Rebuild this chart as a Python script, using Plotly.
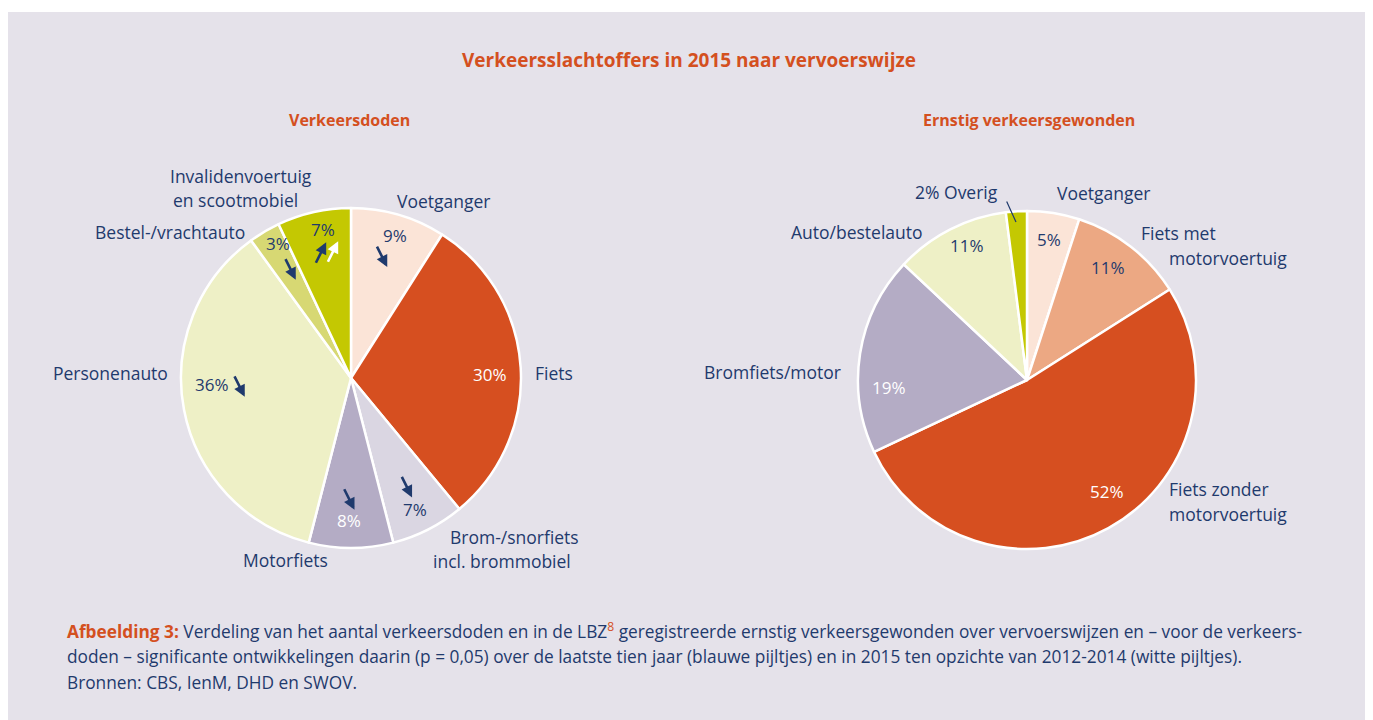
import math
import plotly.graph_objects as go

# ---------------- data ----------------
doden_labels = ["Voetganger", "Fiets", "Brom-/snorfiets incl. brommobiel", "Motorfiets",
                "Personenauto", "Bestel-/vrachtauto", "Invalidenvoertuig en scootmobiel"]
doden_values = [9, 30, 7, 8, 36, 3, 7]
# significant trend over last ten years (blue arrows): -1 down, +1 up, 0 none
doden_trend_10jr = [-1, 0, -1, -1, -1, -1, 1]
# 2015 vs 2012-2014 (white arrows)
doden_trend_2015 = [0, 0, 0, 0, 0, 0, 1]

gewond_labels = ["Voetganger", "Fiets met motorvoertuig", "Fiets zonder motorvoertuig",
                 "Bromfiets/motor", "Auto/bestelauto", "Overig"]
gewond_values = [5, 11, 52, 19, 11, 2]

title = "Verkeersslachtoffers in 2015 naar vervoerswijze"
sub_left = "Verkeersdoden"
sub_right = "Ernstig verkeersgewonden"
caption = [
    "<b><span style='color:#D4501F'>Afbeelding 3:</span></b> Verdeling van het aantal verkeersdoden en in de LBZ"
    "<sup><span style='color:#D4501F'>8</span></sup> geregistreerde ernstig verkeersgewonden over vervoerswijzen en – voor de verkeers-",
    "doden – significante ontwikkelingen daarin (p = 0,05) over de laatste tien jaar (blauwe pijltjes) en in 2015 ten opzichte van 2012-2014 (witte pijltjes).",
    "Bronnen: CBS, IenM, DHD en SWOV.",
]

# ---------------- style ----------------
W, H = 1373, 720
OFF = 8  # page body margin of the browser
FONT = "Open Sans"
NAVY = "#1F3A6D"
ORANGE = "#D4501F"
PANEL = "#E5E2EA"
NAME_SIZE = 17.5
PCT_SIZE = 17
CAP_SIZE = 17.3

doden_colors = ["#FBE4D7", "#D64F20", "#DAD6E2", "#B4ACC5", "#EEF0C6", "#D7D873", "#C4C802"]
doden_text_col = [NAVY, "white", NAVY, "white", NAVY, NAVY, NAVY]
doden_r = [0.88, 0.82, 0.86, 0.84, 0.82, 0.90, 0.89]
doden_shift = [1, 2, 1, 1, 8, 2, 2]
# arrow head offset from percentage label (px)
doden_arrow_off = [(-8, 32), None, (-3, -12), (6, -11), (33, 12), (18, 36), (3, 13)]
doden_warrow_off = [None, None, None, None, None, None, (15, 12)]

gewond_colors = ["#FBE4D7", "#ECA883", "#D64F20", "#B4ACC5", "#EEF0C6", "#C4C802"]
gewond_text_col = [NAVY, NAVY, "white", "white", NAVY, None]
gewond_r = [0.84, 0.82, 0.81, 0.82, 0.87, None]
gewond_shift = [0, -2, -7, -12, 3, 0]

L = dict(cx=351, cy=378, R=170)
Rt = dict(cx=1027, cy=380, R=169)

# name labels: lines (text, dx, dy, anchor) relative to pie centre
doden_names = [
    [("Voetganger", 44, -177, "left")],
    [("Fiets", 182, -5, "left")],
    [("Brom-/snorfiets", 97, 159, "left"), ("incl. brommobiel", 80, 183, "left")],
    [("Motorfiets", -66, 182, "center")],
    [("Personenauto", -181, -5, "right")],
    [("Bestel-/vrachtauto", -104, -146, "right")],
    [("Invalidenvoertuig", -110, -202, "center"), ("en scootmobiel", -116, -178, "center")],
]
gewond_names = [
    [("Voetganger", 28, -187, "left")],
    [("Fiets met", 112, -147, "left"), ("motorvoertuig", 140, -122, "left")],
    [("Fiets zonder", 140, 109, "left"), ("motorvoertuig", 140, 134, "left")],
    [("Bromfiets/motor", -184, -8, "right")],
    [("Auto/bestelauto", -102, -148, "right")],
    [("{p}% Overig", -27, -188, "right")],
]


def px(x):
    return (x - OFF) / W


def py(y):
    return 1 - (y - OFF) / H


def domain(p):
    return dict(x=[px(p["cx"] - p["R"]), px(p["cx"] + p["R"])],
                y=[py(p["cy"] + p["R"]), py(p["cy"] - p["R"])])


fig = go.Figure()
for vals, labs, cols, p in [(doden_values, doden_labels, doden_colors, L),
                            (gewond_values, gewond_labels, gewond_colors, Rt)]:
    fig.add_trace(go.Pie(values=vals, labels=labs, sort=False, direction="clockwise",
                         rotation=0, textinfo="none", hoverinfo="label+percent",
                         marker=dict(colors=cols, line=dict(color="white", width=2.5)),
                         domain=domain(p), showlegend=False))

ann = []


def text_ann(x, y, text, color, size=16, anchor="center", bold=False):
    ann.append(dict(x=px(x), y=py(y), xref="paper", yref="paper", text=f"<b>{text}</b>" if bold else text,
                    showarrow=False, xanchor=anchor, yanchor="middle",
                    font=dict(family=FONT, size=size, color=color)))


def arrow(hx, hy, tx, ty, color):
    ann.append(dict(x=px(hx), y=py(hy), xref="paper", yref="paper", ax=tx - hx, ay=ty - hy,
                    axref="pixel", ayref="pixel", text="", showarrow=True, arrowhead=2,
                    arrowsize=0.9, arrowwidth=2.6, arrowcolor=color, standoff=0, startstandoff=0))


def pct_positions(vals, p, rfr, shift):
    tot = sum(vals)
    cum = 0
    out = []
    for v, r, s in zip(vals, rfr, shift):
        mid = (cum + v / 2) / tot * 360 + s
        cum += v
        if r is None:
            out.append(None)
            continue
        th = math.radians(mid)
        out.append((p["cx"] + r * p["R"] * math.sin(th), p["cy"] - r * p["R"] * math.cos(th)))
    return out


# left pie
pos = pct_positions(doden_values, L, doden_r, doden_shift)
for i, v in enumerate(doden_values):
    x, y = pos[i]
    text_ann(x, y, f"{v}%", doden_text_col[i], size=PCT_SIZE)
    for (t, dx, dy, a) in doden_names[i]:
        text_ann(L["cx"] + dx, L["cy"] + dy, t, NAVY, size=NAME_SIZE, anchor=a)
    for trend, off, col in [(doden_trend_10jr[i], doden_arrow_off[i], NAVY),
                            (doden_trend_2015[i], doden_warrow_off[i], "white")]:
        if trend and off:
            hx, hy = x + off[0], y + off[1]
            if trend < 0:
                arrow(hx, hy, hx - 11, hy - 22, col)
            else:
                arrow(hx, hy, hx - 11, hy + 22, col)

# right pie
pos = pct_positions(gewond_values, Rt, gewond_r, gewond_shift)
for i, v in enumerate(gewond_values):
    if pos[i] is not None:
        x, y = pos[i]
        text_ann(x, y, f"{v}%", gewond_text_col[i], size=PCT_SIZE)
    for (t, dx, dy, a) in gewond_names[i]:
        text_ann(Rt["cx"] + dx, Rt["cy"] + dy, t.format(p=v), NAVY, size=NAME_SIZE, anchor=a)

# leader line for Overig
ann.append(dict(x=px(1016), y=py(222), xref="paper", yref="paper", ax=-10, ay=-22,
                axref="pixel", ayref="pixel", text="", showarrow=True, arrowhead=0,
                arrowwidth=1.2, arrowcolor=NAVY, standoff=0))

# titles
text_ann(689, 60, title, ORANGE, size=19, bold=True)
text_ann(349, 120, sub_left, ORANGE, size=16, bold=True)
text_ann(1029, 120, sub_right, ORANGE, size=16, bold=True)

# caption
for k, line in enumerate(caption):
    text_ann(65, 630 + 26 * k, line, NAVY, size=CAP_SIZE, anchor="left")

fig.update_layout(
    width=W, height=H, autosize=False,
    margin=dict(l=0, r=0, t=0, b=0),
    paper_bgcolor="white", plot_bgcolor="white",
    annotations=ann,
    shapes=[dict(type="rect", xref="paper", yref="paper", x0=px(8), x1=px(1370), y0=0, y1=py(12),
                 fillcolor=PANEL, line=dict(width=0), layer="below")],
    font=dict(family=FONT, color=NAVY),
)

fig.write_html("out.html")
